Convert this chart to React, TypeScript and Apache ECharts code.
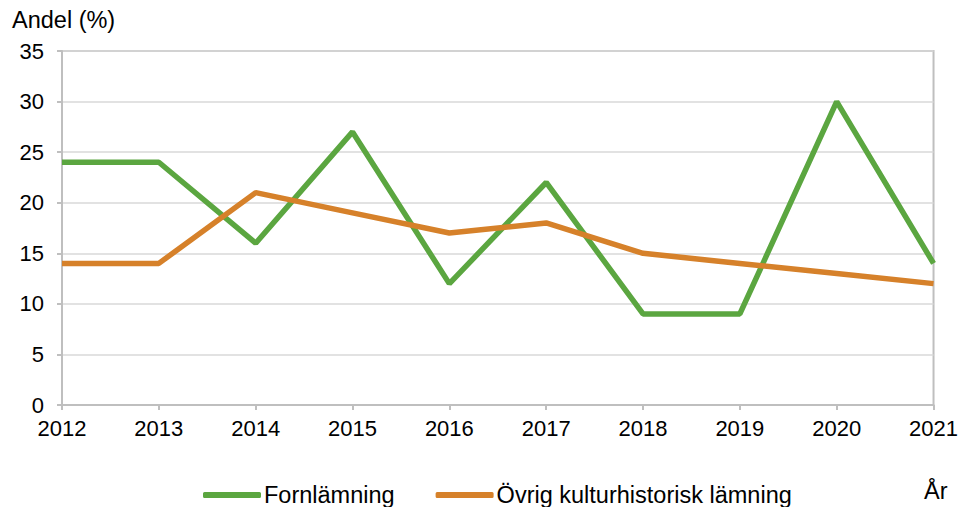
import React, { useEffect, useRef } from "react";
import * as echarts from "echarts";

const years = ["2012", "2013", "2014", "2015", "2016", "2017", "2018", "2019", "2020", "2021"];
const fornlamning = [24, 24, 16, 27, 12, 22, 9, 9, 30, 14];
const ovrig = [14, 14, 21, 19, 17, 18, 15, 14, 13, 12];
const seriesNames = ["Fornlämning", "Övrig kulturhistorisk lämning"];

const FONT = "'Liberation Sans', Arial, sans-serif";
const FS = 22;
const FS_BIG = 23.5;

export default function App() {
  const ref = useRef<HTMLDivElement>(null);
  useEffect(() => {
    const chart = echarts.init(ref.current!, null, { renderer: "svg" });
    chart.setOption({
      animation: false,
      textStyle: { fontFamily: FONT },
      grid: {
        left: 62,
        right: 24,
        top: 51,
        bottom: 102,
        show: true,
        borderColor: "#bfbfbf",
        borderWidth: 2,
        backgroundColor: "transparent",
      },
      xAxis: {
        type: "category",
        data: years,
        boundaryGap: false,
        axisLine: { lineStyle: { color: "#bfbfbf", width: 2 } },
        axisTick: { show: true, length: 5, lineStyle: { color: "#bfbfbf", width: 2 } },
        axisLabel: { color: "#000", fontSize: FS, fontFamily: FONT, margin: 12 },
        splitLine: { show: false },
      },
      yAxis: {
        type: "value",
        min: 0,
        max: 35,
        interval: 5,
        axisLine: { show: true, lineStyle: { color: "#bfbfbf", width: 2 } },
        axisTick: { show: true, length: 5, lineStyle: { color: "#bfbfbf", width: 2 } },
        axisLabel: { color: "#000", fontSize: FS, fontFamily: FONT, margin: 18 },
        splitLine: { show: true, lineStyle: { color: "#d9d9d9", width: 1.5 } },
      },
      legend: {
        left: 198,
        top: 478,
        itemWidth: 58,
        itemHeight: 6,
        itemGap: 41,
        icon: "roundRect",
        textStyle: { color: "#000", fontSize: FS_BIG, fontFamily: FONT, padding: [0, 0, 0, -2] },
        data: seriesNames,
      },
      graphic: [
        {
          type: "text",
          left: 12,
          top: 8,
          style: { text: "Andel (%)", fill: "#000", font: `${FS_BIG}px ${FONT}` },
        },
        {
          type: "text",
          left: 924,
          top: 479,
          style: { text: "År", fill: "#000", font: `${FS_BIG}px ${FONT}` },
        },
      ],
      series: [
        {
          name: seriesNames[0],
          type: "line",
          data: fornlamning,
          symbol: "none",
          lineStyle: { color: "#5ba640", width: 5.5 },
          itemStyle: { color: "#5ba640" },
        },
        {
          name: seriesNames[1],
          type: "line",
          data: ovrig,
          symbol: "none",
          lineStyle: { color: "#d6812a", width: 5.5 },
          itemStyle: { color: "#d6812a" },
        },
      ],
    });
    return () => chart.dispose();
  }, []);
  return <div ref={ref} style={{ width: 961, height: 507, position: "absolute", left: 0, top: 0 }} />;
}
